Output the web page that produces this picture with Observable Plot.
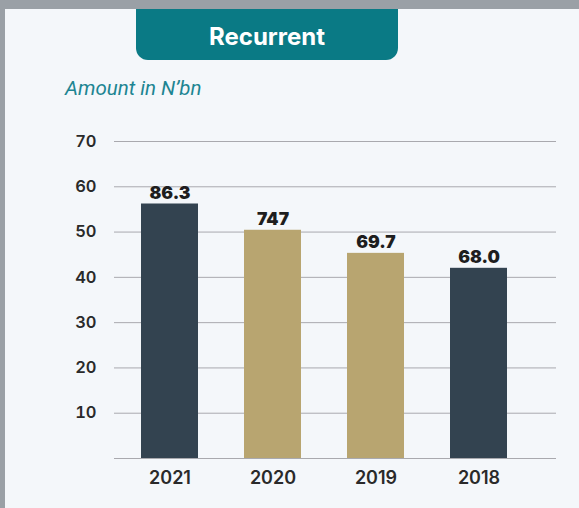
<!DOCTYPE html>
<html>
<head>
<meta charset="utf-8">
<script src="https://cdn.jsdelivr.net/npm/d3@7"></script>
<script src="https://cdn.jsdelivr.net/npm/@observablehq/plot@0.6"></script>
<style>
  html, body { margin: 0; padding: 0; }
  body { width: 579px; height: 508px; background: #9aa0a6; position: relative; overflow: hidden; }
  #panel { position: absolute; left: 5px; top: 9px; width: 574px; height: 499px; background: #f4f7fa; }
  #title { position: absolute; left: 136px; top: 9px; width: 262px; height: 51px; background: #0a7a85;
    border-radius: 0 0 12px 12px; color: #fff; font-family: Inter, sans-serif; font-weight: 700; font-size: 24px;
    display: flex; align-items: center; justify-content: center; box-sizing: border-box; padding-top: 3px; }
  #subtitle { position: absolute; left: 65px; top: 76px; font-family: Roboto, sans-serif; font-style: italic;
    font-weight: 400; font-size: 20.5px; color: #1d8592; }
  #chart { position: absolute; left: 0; top: 110px; }
</style>
</head>
<body>
<div id="panel"></div>
<div id="title">Recurrent</div>
<div id="subtitle">Amount in N’bn</div>
<div id="chart"></div>
<script>
const years = ["2021", "2020", "2019", "2018"];
const values = [56.2, 50.4, 45.3, 42.0];
const valueLabels = ["86.3", "747", "69.7", "68.0"];
const barColors = ["#334350", "#b8a570", "#b8a570", "#334350"];
const yTicks = [10, 20, 30, 40, 50, 60, 70];

const data = years.map((y, i) => ({year: y, value: values[i], label: valueLabels[i], color: barColors[i]}));

const chart = Plot.plot({
  width: 579,
  height: 398,
  marginLeft: 114,
  marginRight: 23,
  marginTop: 31,
  marginBottom: 50,
  style: {background: "transparent", fontFamily: "Inter, sans-serif", color: "#222"},
  x: {domain: years, range: [116.6, 531.4], paddingInner: 0.45, paddingOuter: 0.225, label: null},
  y: {domain: [0, 70], label: null},
  marks: [
    Plot.ruleY([0, ...yTicks], {stroke: "#a9a9ae", strokeWidth: 1, strokeOpacity: 1}),
    Plot.barY(data, {x: "year", y: "value", fill: "color"}),
    Plot.text(data, {x: "year", y: "value", text: "label", lineAnchor: "bottom", dy: -5,
      fontSize: 17.5, fontWeight: 900, fill: "#1e1e1e"}),
    Plot.axisY({ticks: yTicks, tickSize: 0, tickPadding: 18, fontSize: 16.5, fontWeight: 600, fill: "#2a2a2a", label: null}),
    Plot.axisX({tickSize: 0, tickPadding: 13, fontSize: 18, fontWeight: 600, fill: "#2a2a2a", label: null})
  ]
});
document.getElementById("chart").appendChild(chart);
</script>
</body>
</html>
